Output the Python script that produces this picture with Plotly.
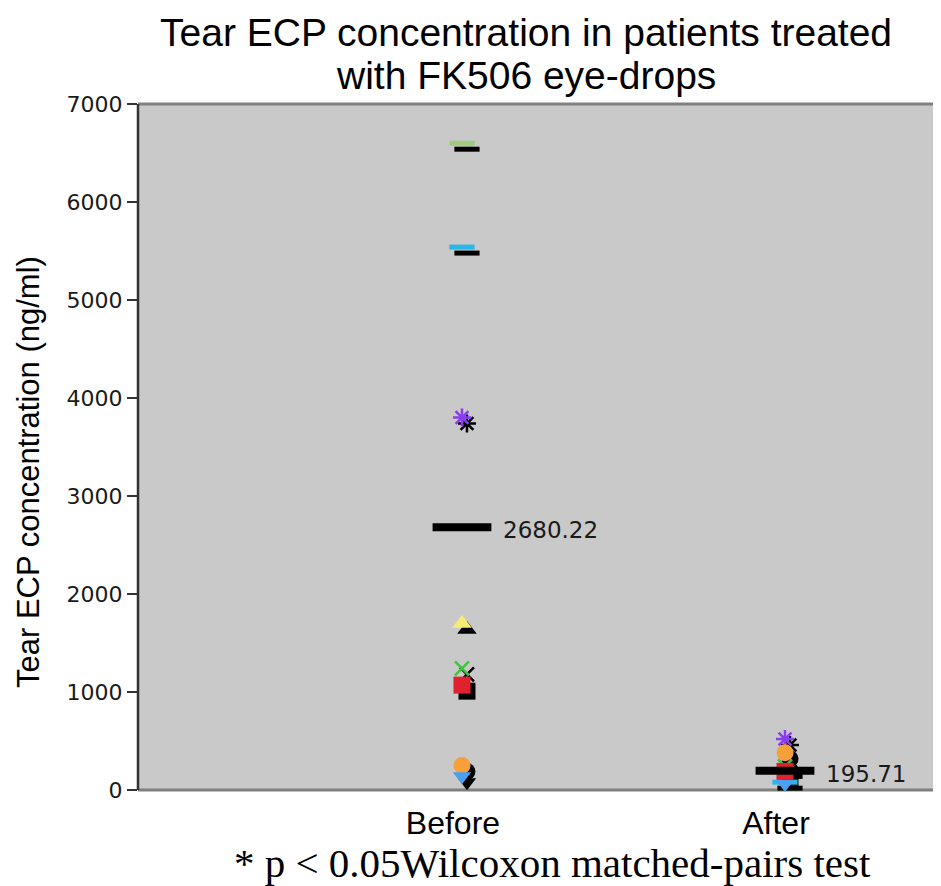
import plotly.graph_objects as go

# ---- data ----
categories = ["Before", "After"]
patient_symbols = ["line-ew", "line-ew", "asterisk", "triangle-up", "x-thin", "square", "circle", "triangle-down"]
patient_colors = ["#9ccc7c", "#29b6e8", "#8a3cf0", "#f6ec72", "#3cc83c", "#e0222e", "#f7a03a", "#4a9ff0"]
before_values = [6600, 5540, 3800, 1700, 1240, 1070, 250, 140]
after_values = [200, 80, 520, -10, 240, 190, 380, 60]
mean_values = [2680.22, 195.71]
mean_labels = ["2680.22", "195.71"]
yticks = [0, 1000, 2000, 3000, 4000, 5000, 6000, 7000]
title_lines = ["Tear ECP concentration in patients treated", "with FK506 eye-drops"]

OFF = 8  # default page body margin
W, H = 941 - OFF, 886 - OFF
ML, MT, MB = 138 - OFF, 104 - OFF, 886 - 790
MR = 0
plot_w = W - ML - MR
plot_h = H - MT - MB
x_range = [-1.003, 1.483]
y_range = [0, 7000]
# shadow offset in pixels
sdx, sdy = 5, 6
ux = (x_range[1] - x_range[0]) / plot_w
uy = (y_range[1] - y_range[0]) / plot_h
x_range_sh = [x_range[0] - sdx * ux, x_range[1] - sdx * ux]
y_range_sh = [y_range[0] + sdy * uy, y_range[1] + sdy * uy]

def px_x(page_x):
    return (page_x - OFF - ML) / plot_w

def px_y(page_y):
    return (MT + plot_h - (page_y - OFF)) / plot_h

line_syms = {"line-ew", "asterisk", "x-thin"}
sizes = {"line-ew": 18, "asterisk": 15, "x-thin": 14, "triangle-up": 17,
         "square": 17, "circle": 17, "triangle-down": 16}
lwidths = {"line-ew": 5, "asterisk": 2.5, "x-thin": 2.5}

fig = go.Figure()

def add_series(values, cat, color_override, xa, ya):
    xs = [cat] * len(values)
    sizes_l = [sizes[s] for s in patient_symbols]
    cols = [color_override or c for c in patient_colors]
    fill = [c if s not in line_syms else "rgba(0,0,0,0)" for c, s in zip(cols, patient_symbols)]
    lcol = [c if s in line_syms else "rgba(0,0,0,0)" for c, s in zip(cols, patient_symbols)]
    lw = [lwidths.get(s, 0) for s in patient_symbols]
    fig.add_trace(go.Scatter(
        x=xs, y=values, mode="markers", xaxis=xa, yaxis=ya, cliponaxis=False,
        marker=dict(symbol=patient_symbols, size=sizes_l, color=fill, opacity=1,
                    line=dict(color=lcol, width=lw)),
        showlegend=False, hoverinfo="skip"))

# shadows (black) on shifted base axes
for vals, cat in zip([before_values, after_values], categories):
    add_series(vals, cat, "#000000", "x", "y")
# coloured markers on overlay axes
for vals, cat in zip([before_values, after_values], categories):
    add_series(vals, cat, None, "x2", "y2")

# mean bars
fig.add_trace(go.Scatter(
    x=categories, y=mean_values, mode="markers", xaxis="x2", yaxis="y2", cliponaxis=False,
    marker=dict(symbol="line-ew", size=42, opacity=1, line=dict(color="#000000", width=8)),
    showlegend=False, hoverinfo="skip"))

annotations = []
for cat, m, lab in zip(categories, mean_values, mean_labels):
    annotations.append(dict(x=cat, y=m, xref="x2", yref="y2", text=lab, showarrow=False,
                            xanchor="left", yanchor="middle", xshift=39, yshift=-3,
                            font=dict(family="DejaVu Sans", size=23, color="#1a1a1a")))

for line, yc in zip(title_lines, [32, 76]):
    annotations.append(dict(
        text=line, xref="paper", yref="paper", x=px_x(526), y=px_y(yc),
        xanchor="center", yanchor="middle", showarrow=False, borderpad=0,
        font=dict(family="Liberation Sans", size=39, color="#000000")))
annotations.append(dict(
    text="Tear ECP concentration (ng/ml)", textangle=-90,
    xref="paper", yref="paper", x=px_x(28), y=px_y(472),
    xanchor="center", yanchor="middle", showarrow=False,
    font=dict(family="Liberation Sans", size=31, color="#000000")))
annotations.append(dict(
    text="* p < 0.05Wilcoxon matched-pairs test",
    xref="paper", yref="paper", x=px_x(552), y=px_y(863),
    xanchor="center", yanchor="middle", showarrow=False, borderpad=0,
    font=dict(family="Liberation Serif", size=41, color="#000000")))

fig.update_layout(
    width=W, height=H,
    margin=dict(l=ML, r=MR, t=MT, b=MB),
    paper_bgcolor="#ffffff", plot_bgcolor="#c9c9c9",
    annotations=annotations,
    xaxis=dict(type="category", categoryarray=categories, range=x_range_sh,
               visible=False, showgrid=False, zeroline=False),
    yaxis=dict(range=y_range_sh, visible=False, showgrid=False, zeroline=False),
    xaxis2=dict(type="category", categoryarray=categories, range=x_range,
                overlaying="x", anchor="y2", side="bottom",
                showgrid=False, zeroline=False, showline=False, ticks="",
                tickfont=dict(family="Liberation Sans", size=32, color="#000000"),
                ticklabelstandoff=11, ticklabelshift=-9),
    yaxis2=dict(range=y_range, overlaying="y", anchor="x2", side="left",
                tickvals=yticks, showgrid=False, zeroline=False,
                showline=False, ticks="outside",
                ticklen=10, tickwidth=2, tickcolor="#333333",
                tickfont=dict(family="DejaVu Sans", size=22, color="#1a1a1a")),
    shapes=[
        dict(type="line", xref="paper", yref="paper", x0=0, x1=1, y0=1, y1=1,
             line=dict(color="#808080", width=3), layer="below"),
        dict(type="line", xref="paper", yref="paper", x0=0, x1=1, y0=0, y1=0,
             line=dict(color="#808080", width=3), layer="below"),
        dict(type="line", xref="paper", yref="paper", x0=0, x1=0, y0=0, y1=1,
             line=dict(color="#333333", width=2.5), layer="below"),
    ],
)

fig.write_html("out.html")
